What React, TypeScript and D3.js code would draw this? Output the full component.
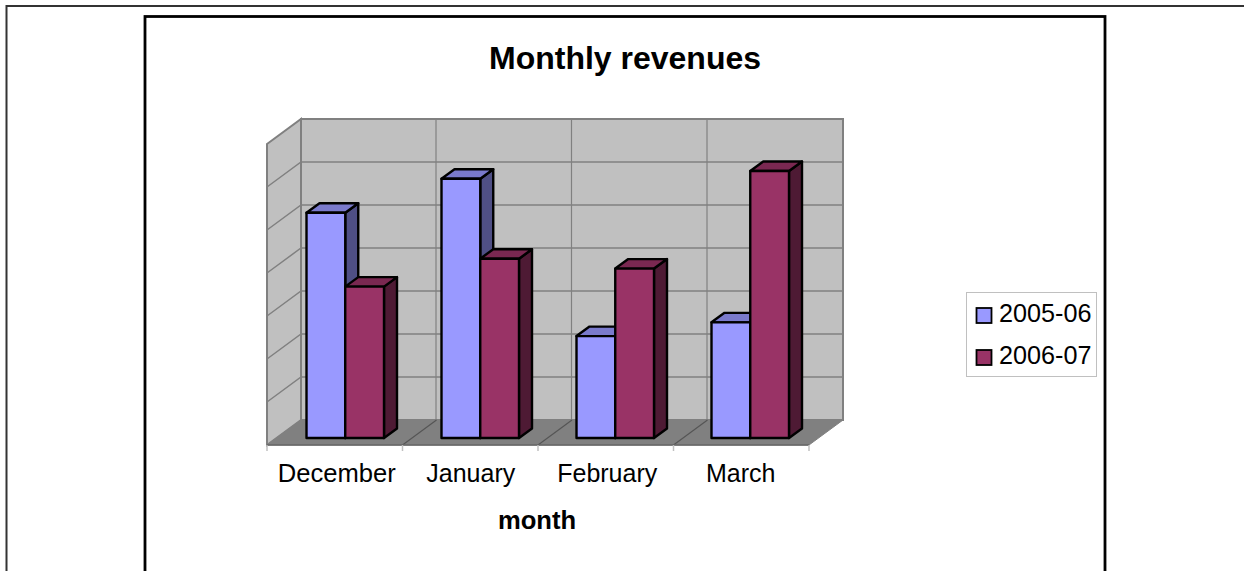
import React from "react";
import * as d3 from "d3";

const categories = ["December", "January", "February", "March"];
const seriesNames = ["2005-06", "2006-07"];
const values2005 = [5.24, 6.03, 2.37, 2.69];
const values2006 = [3.52, 4.17, 3.94, 6.21];
const gridLevels = [0, 1, 2, 3, 4, 5, 6, 7];

const W = 1244, H = 571;
const frontL = 267, frontR = 809, frontB = 445, frontT = 144;
const dx = 34, dy = -25;
const barDx = 13, barDy = -9.5;
const barBase = 438;
const labelNudge = [2, 0.5, 1.5, -0.5];

const xBand = d3.scaleBand().domain(categories).range([frontL, frontR]);
const xBars = d3.scaleBand().domain(categories).range([frontL, frontR - 2]);
const y = d3.scaleLinear().domain([0, 7]).range([frontB, frontT]);
const yBar = d3.scaleLinear().domain([0, 7]).range([barBase, barBase - 301]);
const inner = d3.scaleBand().domain(seriesNames).range([39.5, 117]);

const colors = [
  { front: "#9999ff", top: "#7a7acc", side: "#4f4f85" },
  { front: "#993366", top: "#7a2851", side: "#4e1a34" },
];

const poly = (pts: number[][]) => pts.map((p) => p.join(",")).join(" ");
const sans = "'Liberation Sans', Arial, sans-serif";

function Bar({ x, w, top, c }: { x: number; w: number; top: number; c: typeof colors[0] }) {
  const s = { stroke: "#000", strokeWidth: 2.4, strokeLinejoin: "round" as const };
  return (
    <g>
      <polygon points={poly([[x + w, top], [x + w + barDx, top + barDy], [x + w + barDx, barBase + barDy], [x + w, barBase]])} fill={c.side} {...s} />
      <polygon points={poly([[x, top], [x + barDx, top + barDy], [x + w + barDx, top + barDy], [x + w, top]])} fill={c.top} {...s} />
      <rect x={x} y={top} width={w} height={barBase - top} fill={c.front} {...s} />
    </g>
  );
}

export default function App() {
  return (
    <svg width={W} height={H} style={{ position: "absolute", left: 0, top: 0, background: "#fff" }}>
      <rect x={6.5} y={6} width={1300} height={620} fill="#fff" stroke="#333" strokeWidth={2} />
      <rect x={145} y={16.5} width={960} height={570} fill="#fff" stroke="#000" strokeWidth={2.8} />
      <text x={625} y={69} textAnchor="middle" fontFamily={sans} fontWeight="bold" fontSize={32}>Monthly revenues</text>

      <polygon points={poly([[frontL, y(7)], [frontL + dx, y(7) + dy], [frontL + dx, y(0) + dy], [frontL, y(0)]])} fill="#c0c0c0" stroke="#808080" strokeWidth={2} />
      <rect x={frontL + dx} y={y(7) + dy} width={frontR - frontL} height={y(0) - y(7)} fill="#c0c0c0" stroke="#808080" strokeWidth={2} />
      <polygon points={poly([[frontL, y(0)], [frontR, y(0)], [frontR + dx, y(0) + dy], [frontL + dx, y(0) + dy]])} fill="#808080" stroke="#808080" />

      {gridLevels.slice(1, -1).map((l) => (
        <polyline key={l} points={poly([[frontL, y(l)], [frontL + dx, y(l) + dy], [frontR + dx, y(l) + dy]])} fill="none" stroke="#808080" strokeWidth={1.5} />
      ))}
      {categories.slice(1).map((c) => (
        <g key={c}>
          <line x1={xBand(c)! + dx - 0.5} x2={xBand(c)! + dx - 0.5} y1={y(7) + dy} y2={y(0) + dy} stroke="#808080" strokeWidth={1.2} />
          <line x1={xBand(c)!} y1={y(0)} x2={xBand(c)! + dx} y2={y(0) + dy} stroke="#555" strokeWidth={1.2} />
        </g>
      ))}
      <line x1={frontL} x2={frontR} y1={y(0)} y2={y(0)} stroke="#666" strokeWidth={1.5} />
      {[...categories.map((c) => xBand(c)!), frontR].map((x, i) => (
        <line key={i} x1={x} x2={x} y1={y(0)} y2={y(0) + 6} stroke="#c0c0c0" strokeWidth={1.5} />
      ))}

      {categories.map((c, i) => (
        <g key={c}>
          <Bar x={xBars(c)! + inner(seriesNames[0])!} w={inner.bandwidth()} top={yBar(values2005[i])} c={colors[0]} />
          <Bar x={xBars(c)! + inner(seriesNames[1])!} w={inner.bandwidth()} top={yBar(values2006[i])} c={colors[1]} />
        </g>
      ))}

      {categories.map((c, i) => (
        <text key={c} x={xBand(c)! + xBand.bandwidth() / 2 + labelNudge[i]} y={482} textAnchor="middle" fontFamily={sans} fontSize={i === 0 ? 25.6 : 25} fill="#000">{c}</text>
      ))}
      <text x={537} y={529} textAnchor="middle" fontFamily={sans} fontWeight="bold" fontSize={25.6}>month</text>

      <rect x={966.5} y={292.5} width={130} height={84} fill="#fff" stroke="#c0c0c0" strokeWidth={1} />
      {seriesNames.map((n, i) => (
        <g key={n}>
          <rect x={976.5} y={308 + i * 42} width={15} height={15} fill={colors[i].front} stroke="#000" strokeWidth={1.8} />
          <text x={999} y={322 + i * 42} fontFamily={sans} fontSize={25.2} fill="#000">{n}</text>
        </g>
      ))}
    </svg>
  );
}
